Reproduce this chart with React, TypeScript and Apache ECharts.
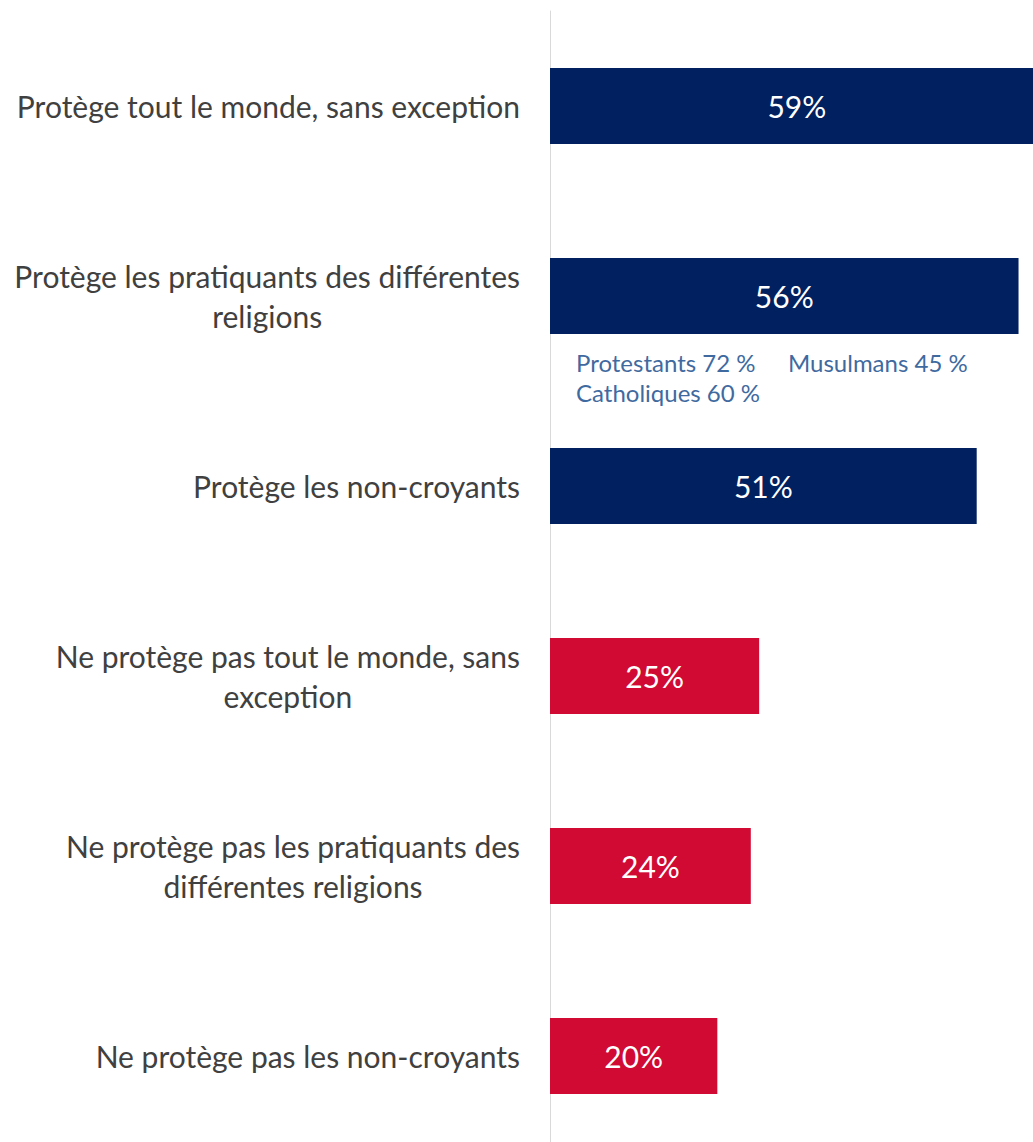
import React, { useEffect, useRef } from "react";
import * as echarts from "echarts";

const categories: string[] = [
  "Protège tout le monde, sans exception",
  "Protège les pratiquants des différentes\nreligions",
  "Protège les non-croyants",
  "Ne protège pas tout le monde, sans\nexception",
  "Ne protège pas les pratiquants des\ndifférentes religions",
  "Ne protège pas les non-croyants",
];
const values: number[] = [59, 56, 51, 25, 24, 20];
const barColors: string[] = ["#002060", "#002060", "#002060", "#D00A33", "#D00A33", "#D00A33"];
const annotations: { text: string; x: number; y: number }[] = [
  { text: "Protestants 72 %", x: 576, y: 362 },
  { text: "Musulmans 45 %", x: 788, y: 362 },
  { text: "Catholiques 60 %", x: 576, y: 392 },
];

const FONT = "Lato, 'Noto Sans', sans-serif";

export default function App() {
  const ref = useRef<HTMLDivElement>(null);
  useEffect(() => {
    if (!ref.current) return;
    const chart = echarts.init(ref.current, undefined, { renderer: "svg" });
    chart.setOption({
      animation: false,
      backgroundColor: "#ffffff",
      grid: { left: 550, right: 0, top: 11, bottom: 0, containLabel: false },
      xAxis: {
        type: "value",
        min: 0,
        max: 60,
        show: false,
        splitLine: { show: false },
      },
      yAxis: {
        type: "category",
        inverse: true,
        data: categories,
        axisTick: { show: false },
        axisLine: { show: true, lineStyle: { color: "#d9d9d9", width: 1 } },
        axisLabel: {
          margin: 30,
          color: "#404040",
          fontFamily: FONT,
          fontSize: 30,
          lineHeight: 40,
          align: "right",
          formatter: (v: string) =>
            v
              .split("\n")
              .map((l) => "{c|" + l + "}")
              .join("\n"),
          rich: {
            c: {
              align: "center",
              color: "#404040",
              fontFamily: FONT,
              fontSize: 30,
              lineHeight: 40,
            },
          },
        },
      },
      series: [
        {
          type: "bar",
          data: values.map((v, i) => ({ value: v, itemStyle: { color: barColors[i] } })),
          barWidth: 76,
          label: {
            show: true,
            position: "inside",
            formatter: "{c}%",
            color: "#ffffff",
            fontFamily: FONT,
            fontSize: 30,
          },
        },
      ],
      graphic: annotations.map((a) => ({
        type: "text",
        x: a.x,
        y: a.y,
        style: {
          text: a.text,
          fill: "#3f6aa0",
          font: `24px ${FONT}`,
          textAlign: "left",
          textVerticalAlign: "middle",
        },
      })),
    });
    return () => chart.dispose();
  }, []);
  return (
    <div
      style={{
        position: "fixed",
        left: 0,
        top: 0,
        width: 1033,
        height: 1142,
        overflow: "hidden",
        background: "#fff",
      }}
    >
      <div ref={ref} style={{ width: 1052, height: 1151 }} />
    </div>
  );
}
